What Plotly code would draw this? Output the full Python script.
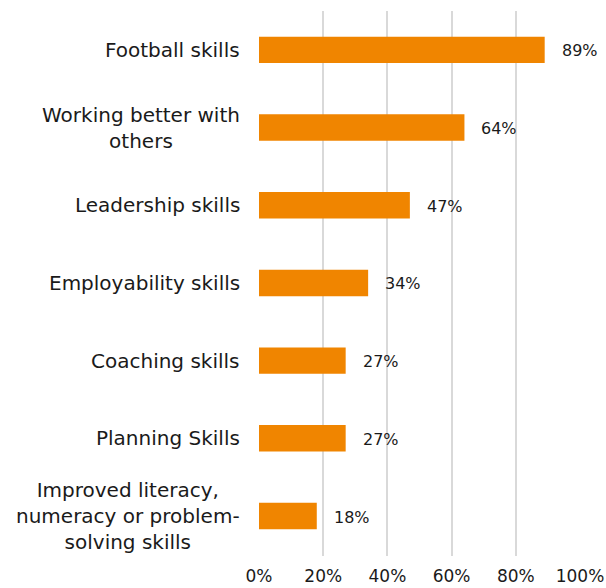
import plotly.graph_objects as go

categories = [
    "Football skills",
    "Working better with<br>others",
    "Leadership skills",
    "Employability skills",
    "Coaching skills",
    "Planning Skills",
    "Improved literacy,<br>numeracy or problem-<br>solving skills",
]
values = [89, 64, 47, 34, 27, 27, 18]
tick_vals = [0, 20, 40, 60, 80, 100]
tick_text = ["0%", "20%", "40%", "60%", "80%", "100%"]

font_family = "DejaVu Sans, Verdana, sans-serif"
bar_color = "#F08500"
text_color = "#1a1a1a"

fig = go.Figure()
fig.add_trace(go.Bar(
    x=values,
    y=categories,
    orientation="h",
    marker=dict(color=bar_color, line=dict(width=0)),
    width=0.34,
    hoverinfo="skip",
))

# value labels to the right of each bar
for v, c in zip(values, categories):
    fig.add_annotation(
        x=v, y=c, text=f"{v}%", showarrow=False,
        xanchor="left", xshift=15, yshift=-1,
        font=dict(family=font_family, size=16, color=text_color),
    )

# category labels, wrapped lines centred within each label block
for c in categories:
    fig.add_annotation(
        xref="paper", x=0, y=c, text=c, showarrow=False,
        xanchor="right", xshift=-17, align="center",
        font=dict(family=font_family, size=20, color=text_color),
    )

fig.update_layout(
    width=606, height=588,
    margin=dict(l=259, r=26, t=11, b=32),
    plot_bgcolor="white", paper_bgcolor="white",
    showlegend=False,
    font=dict(family=font_family, color=text_color),
)
fig.update_xaxes(
    range=[0, 100],
    tickvals=tick_vals, ticktext=tick_text,
    showgrid=True, gridcolor="#D9D9D9", gridwidth=2,
    zeroline=False, showline=False, ticks="",
    ticklabelstandoff=8,
    tickfont=dict(size=17, family=font_family, color=text_color),
    automargin=False,
    fixedrange=True,
)
fig.update_yaxes(
    categoryorder="array", categoryarray=categories[::-1],
    showgrid=False, zeroline=False, showline=False, ticks="",
    showticklabels=False,
    automargin=False,
    fixedrange=True,
)

fig.write_html("out.html")
